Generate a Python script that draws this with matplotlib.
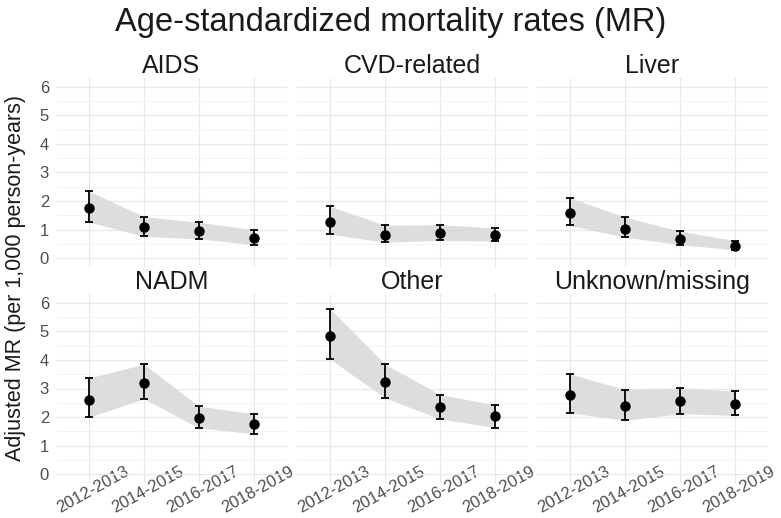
import matplotlib
matplotlib.use("Agg")
import matplotlib.pyplot as plt
import matplotlib.transforms as mtransforms
import numpy as np

plt.rcParams['font.family'] = ['Liberation Sans', 'DejaVu Sans']

periods = ["2012-2013", "2014-2015", "2016-2017", "2018-2019"]
causes = ["AIDS", "CVD-related", "Liver", "NADM", "Other", "Unknown/missing"]

mr = {
    "AIDS":            [1.76, 1.09, 0.95, 0.71],
    "CVD-related":     [1.26, 0.81, 0.89, 0.81],
    "Liver":           [1.57, 1.04, 0.69, 0.42],
    "NADM":            [2.61, 3.19, 1.98, 1.77],
    "Other":           [4.84, 3.22, 2.35, 2.03],
    "Unknown/missing": [2.78, 2.39, 2.55, 2.47],
}
mr_low = {
    "AIDS":            [1.27, 0.77, 0.68, 0.48],
    "CVD-related":     [0.85, 0.56, 0.63, 0.60],
    "Liver":           [1.15, 0.74, 0.48, 0.30],
    "NADM":            [2.00, 2.64, 1.62, 1.42],
    "Other":           [4.03, 2.67, 1.94, 1.63],
    "Unknown/missing": [2.15, 1.89, 2.12, 2.06],
}
mr_high = {
    "AIDS":            [2.35, 1.46, 1.26, 1.00],
    "CVD-related":     [1.82, 1.16, 1.18, 1.06],
    "Liver":           [2.12, 1.44, 0.95, 0.62],
    "NADM":            [3.37, 3.85, 2.38, 2.12],
    "Other":           [5.79, 3.85, 2.79, 2.43],
    "Unknown/missing": [3.51, 2.96, 3.02, 2.91],
}
yticks = [0, 1, 2, 3, 4, 5, 6]

W, H = 781, 518
fig = plt.figure(figsize=(W / 100, H / 100), dpi=100)
fig.patch.set_facecolor("white")

lefts = [56, 297, 537]
pw = 231
tops = [78, 294]
ph = 189

grid_col = "#E8E8E8"
minor_col = "#F3F3F3"
text_grey = "#4D4D4D"

x = np.arange(len(periods))
for i, cause in enumerate(causes):
    r, c = divmod(i, 3)
    ax = fig.add_axes([lefts[c] / W, 1 - (tops[r] + ph) / H, pw / W, ph / H])
    ax.set_facecolor("white")
    for s in ax.spines.values():
        s.set_visible(False)
    ax.set_xlim(-0.6, 3.6)
    ax.set_ylim(-0.3, 6.3)
    ax.set_yticks(yticks)
    ax.set_yticks(np.arange(0.5, 6.5, 1.0), minor=True)
    ax.set_xticks(x)
    ax.grid(True, which="major", color=grid_col, lw=0.9)
    ax.grid(True, which="minor", axis="y", color=minor_col, lw=0.6)
    ax.set_axisbelow(True)
    ax.tick_params(which="both", length=0, colors=text_grey, labelsize=12, pad=5)
    if c == 0:
        ax.set_yticklabels([str(v) for v in yticks])
    else:
        ax.set_yticklabels([])
    if r == 1:
        ax.tick_params(axis="x", pad=5, labelsize=12)
        labs = ax.set_xticklabels(periods, rotation=29, rotation_mode="anchor",
                                  ha="center", va="center")
        shift = mtransforms.ScaledTranslation(4 / 100, 0, fig.dpi_scale_trans)
        for t in labs:
            t.set_transform(t.get_transform() + shift)
    else:
        ax.set_xticklabels([])

    lo = np.array(mr_low[cause])
    hi = np.array(mr_high[cause])
    m = np.array(mr[cause])
    ax.fill_between(x, lo, hi, color="#DADADA", alpha=0.9, lw=0, zorder=2)
    ax.errorbar(x, m, yerr=[m - lo, hi - m], fmt="o", color="black",
                ms=6.5, capsize=2.6, elinewidth=1.3, capthick=1.3, zorder=3)
    ax.set_title(cause, fontsize=18, color="#1A1A1A", pad=3)

fig.text(0.5, 1 - 22 / H, "Age-standardized mortality rates (MR)",
         ha="center", va="center", fontsize=23.5, color="#1A1A1A")
fig.text(16 / W, 1 - 278 / H, "Adjusted MR (per 1,000 person-years)",
         ha="center", va="center", rotation=90, fontsize=15.5, color="#1A1A1A")

fig.savefig("out.png", dpi=100, facecolor="white")
